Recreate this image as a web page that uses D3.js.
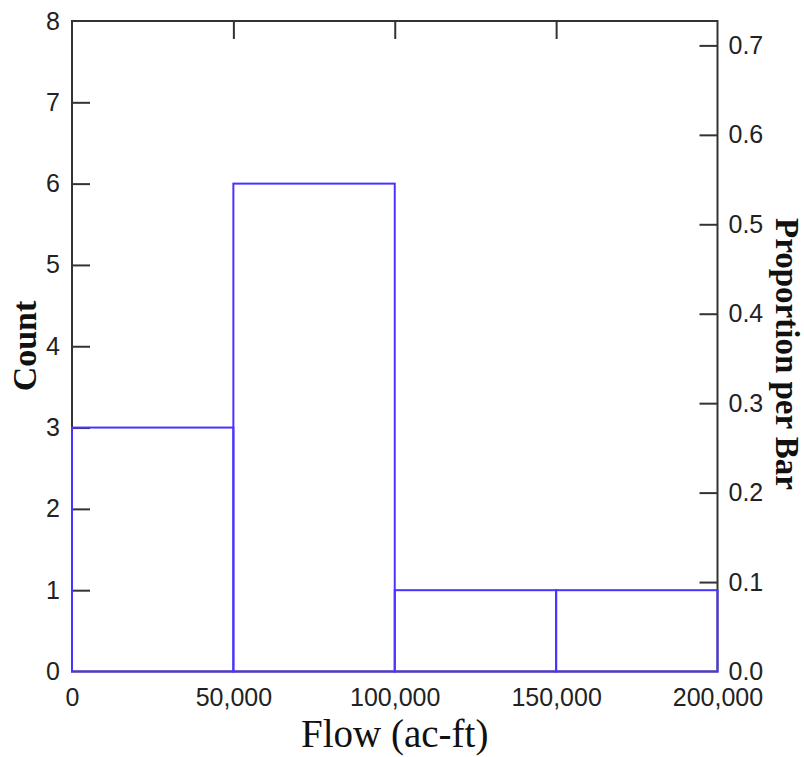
<!DOCTYPE html>
<html>
<head>
<meta charset="utf-8">
<script src="https://cdn.jsdelivr.net/npm/d3@7"></script>
<style>
  html, body { margin: 0; padding: 0; background: #fff; }
  svg { display: block; }
</style>
</head>
<body>
<svg id="chart" width="804" height="757"></svg>
<script>
// ---- data ----
const binEdges = [0, 50000, 100000, 150000, 200000];
const counts = [3, 6, 1, 1];
const xTickValues = [0, 50000, 100000, 150000, 200000];
const countTicks = [0, 1, 2, 3, 4, 5, 6, 7, 8];
const propTicks = [0.0, 0.1, 0.2, 0.3, 0.4, 0.5, 0.6, 0.7];
const xTitle = "Flow (ac-ft)";
const yTitle = "Count";
const y2Title = "Proportion per Bar";

// ---- layout ----
const plotLeft = 72, plotRight = 717.5, plotTop = 21, plotBottom = 671.5;
const total = d3.sum(counts);
const svg = d3.select("#chart");

const x = d3.scaleLinear().domain([0, 200000]).range([plotLeft, plotRight]);
const y = d3.scaleLinear().domain([0, 8]).range([plotBottom, plotTop]);
const yP = d3.scaleLinear().domain([0, 8 / total]).range([plotBottom, plotTop]);

const axisColor = "#333";
const labelFont = "'Liberation Sans', Arial, sans-serif";
const titleFont = "'Liberation Serif', 'Times New Roman', serif";

// frame
svg.append("rect")
  .attr("x", plotLeft).attr("y", plotTop)
  .attr("width", plotRight - plotLeft).attr("height", plotBottom - plotTop)
  .attr("fill", "none").attr("stroke", axisColor).attr("stroke-width", 2);

function styleAxis(g) {
  g.select(".domain").remove();
  g.selectAll(".tick line").attr("stroke", axisColor).attr("stroke-width", 2);
  g.selectAll(".tick text")
    .attr("fill", "#222")
    .style("font-family", labelFont)
    .style("font-size", "25px");
}

// left axis (count)
svg.append("g")
  .attr("transform", `translate(${plotLeft},0)`)
  .call(d3.axisLeft(y).tickValues(countTicks).tickSize(-18).tickPadding(12).tickFormat(d3.format("d")))
  .call(styleAxis)
  .call(g => g.selectAll(".tick line").filter(d => d === 0 || d === 8).remove());

// right axis (proportion)
svg.append("g")
  .attr("transform", `translate(${plotRight},0)`)
  .call(d3.axisRight(yP).tickValues(propTicks).tickSize(-18).tickPadding(11).tickFormat(d3.format(".1f")))
  .call(styleAxis)
  .call(g => g.selectAll(".tick line").filter(d => d === 0).remove());

// top ticks (no labels)
svg.append("g")
  .attr("transform", `translate(0,${plotTop})`)
  .call(d3.axisTop(x).tickValues(xTickValues).tickSize(-18).tickFormat(""))
  .call(styleAxis)
  .call(g => g.selectAll(".tick line").filter(d => d === 0 || d === 200000).remove());

// bottom labels
svg.append("g")
  .attr("transform", `translate(0,${plotBottom})`)
  .call(d3.axisBottom(x).tickValues(xTickValues).tickSize(0).tickPadding(17).tickFormat(d3.format(",")))
  .call(styleAxis);

// bars
const bars = counts.map((c, i) => ({ x0: binEdges[i], x1: binEdges[i + 1], c }));
svg.append("g")
  .selectAll("rect")
  .data(bars)
  .join("rect")
  .attr("x", d => x(d.x0))
  .attr("y", d => y(d.c))
  .attr("width", d => x(d.x1) - x(d.x0))
  .attr("height", d => y(0) - y(d.c))
  .attr("fill", "none")
  .attr("stroke", "#4a33ff")
  .attr("stroke-width", 2);

// titles
svg.append("text")
  .attr("transform", `translate(36,346) rotate(-90)`)
  .attr("text-anchor", "middle")
  .style("font-family", titleFont)
  .style("font-size", "34px")
  .style("font-weight", "bold")
  .attr("fill", "#111")
  .text(yTitle);

svg.append("text")
  .attr("transform", `translate(776,354) rotate(90)`)
  .attr("text-anchor", "middle")
  .style("font-family", titleFont)
  .style("font-size", "33px")
  .style("font-weight", "bold")
  .attr("fill", "#111")
  .text(y2Title);

svg.append("text")
  .attr("x", (plotLeft + plotRight) / 2)
  .attr("y", 747)
  .attr("text-anchor", "middle")
  .style("font-family", titleFont)
  .style("font-size", "39px")
  .attr("fill", "#111")
  .text(xTitle);
</script>
</body>
</html>
